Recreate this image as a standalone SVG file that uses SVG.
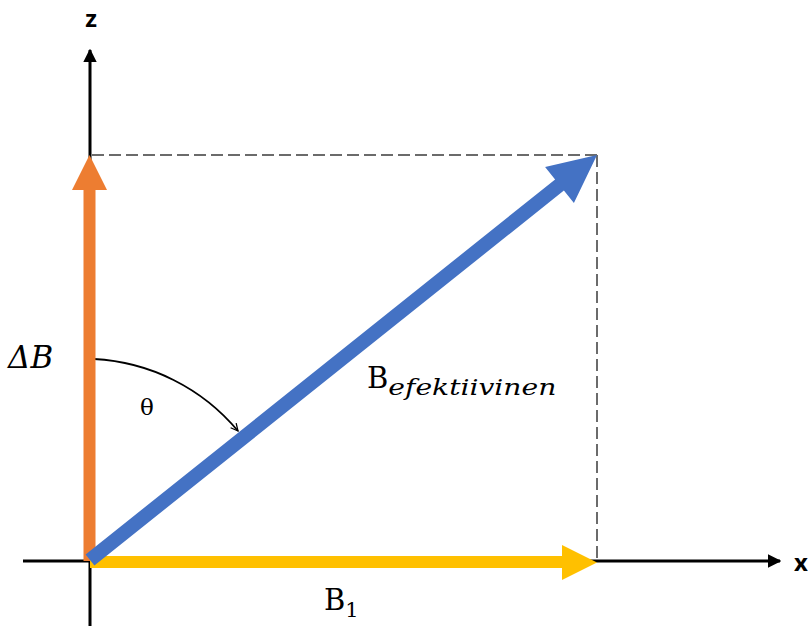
<svg xmlns="http://www.w3.org/2000/svg" width="808" height="628" viewBox="0 0 808 628">
<style>
.axis{stroke:#000;stroke-width:3;fill:none}
.dash{stroke:#6b6b6b;stroke-width:2;stroke-dasharray:12 5;fill:none}
.lbl{font-family:"Open Sans","Liberation Sans",Arial,sans-serif;font-weight:bold;font-size:24px;fill:#000}
.ser{font-family:"DejaVu Serif","Liberation Serif",serif;fill:#000}
</style>
<defs>
<marker id="ah" viewBox="0 0 10 10" refX="9" refY="5" markerWidth="4.5" markerHeight="4.5" orient="auto" markerUnits="strokeWidth">
<path d="M0,0 L10,5 L0,10 z" fill="#000"/>
</marker>
<marker id="arcHead" viewBox="0 0 10 10" refX="9" refY="5" markerWidth="9" markerHeight="9" orient="auto" markerUnits="userSpaceOnUse">
<path d="M1,1 L9,5 L1,9" fill="none" stroke="#000" stroke-width="1.4"/>
</marker>
</defs>
<g id="connectors">
<g id="z-axis">
<line class="axis" x1="90" y1="626" x2="90" y2="50" marker-end="url(#ah)"/>
</g>
<g id="x-axis">
<line class="axis" x1="23" y1="561" x2="780" y2="561" marker-end="url(#ah)"/>
</g>
<g id="dashes">
<line class="dash" x1="92" y1="155" x2="597" y2="155"/>
<line class="dash" x1="597" y1="155" x2="597" y2="560"/>
</g>
<g id="arc">
<path d="M94,359 A201,201 0 0 1 238,431" fill="none" stroke="#000" stroke-width="1.8" marker-end="url(#arcHead)"/>
</g>
</g>
<g id="deltaB-arrow">
<polygon fill="#ED7D31" points="83.5,561 83.5,190 72,190 89.5,155 107,190 95.5,190 95.5,561"/>
</g>
<g id="B1-arrow">
<polygon fill="#FFC000" points="90,556 562,556 562,545 597,562.5 562,580 562,568 90,568"/>
</g>
<g id="Beff-arrow">
<polygon fill="#4472C4" points="85.6,554.5 555.1,179.5 545.1,167 597,155 573.9,203 563.9,190.5 94.4,565.5"/>
</g>
<g id="labels">
<text class="lbl" x="91" y="27" text-anchor="middle">z</text>
<text class="lbl" x="801" y="571" text-anchor="middle">x</text>
<text class="ser" x="8" y="368" font-size="31" font-style="italic">ΔB</text>
<text class="ser" x="140" y="415" font-size="23">θ</text>
<text class="ser" x="367" y="388" font-size="29">B<tspan font-size="23" font-style="italic" dy="7" textLength="168" lengthAdjust="spacingAndGlyphs">efektiivinen</tspan></text>
<text class="ser" x="324" y="610" font-size="29">B<tspan font-size="21" dy="7">1</tspan></text>
</g>
</svg>
